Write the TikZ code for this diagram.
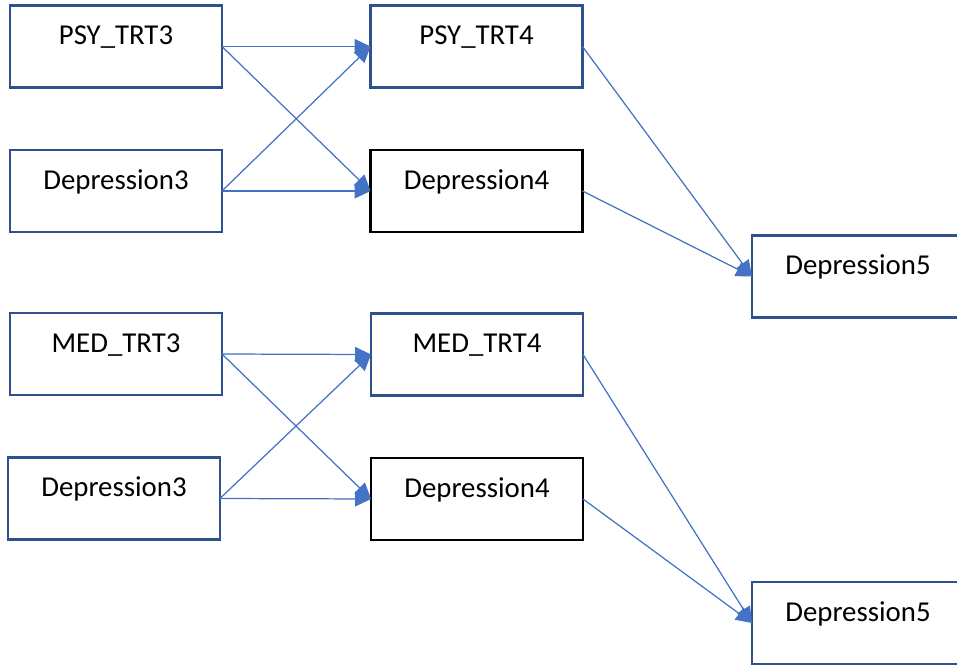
\documentclass[tikz,border=0pt]{standalone}
\usepackage{fontspec}
\setmainfont{Carlito}
\usetikzlibrary{arrows.meta,positioning}
\definecolor{cbox}{HTML}{2F528F}
\definecolor{carrow}{HTML}{4472C4}
\tikzset{
  box/.style={draw, minimum width=4.24cm, minimum height=1.64cm, inner sep=0pt, outer sep=0pt, fill=white, line width=1.4pt, font=\fontsize{16.4}{18}\selectfont, text height=0.4cm, text depth=0.47cm},
  bluen/.style={box, draw=cbox},
  blackn/.style={box, draw=black},
  pre/.style={-{Triangle[length=0.32cm, width=0.3cm]}, draw=carrow, fill=carrow, line width=0.7pt},
}
\begin{document}
\begin{tikzpicture}[x=0.02cm,y=-0.02cm]
\useasboundingbox (0,0) rectangle (957,666);
\clip (0,0) rectangle (957,666);
% upper block
\node[bluen] (psy3) at (116,46.5) {PSY\_TRT3};
\node[bluen] (dep3a) at (116,191) {Depression3};
\node[bluen] (psy4) at (476.5,46.5) {PSY\_TRT4};
\node[blackn] (dep4a) at (476.5,191) {Depression4};
\node[bluen] (dep5a) at (858,276.5) {Depression5};
% lower block
\node[bluen] (med3) at (116,354) {MED\_TRT3};
\node[bluen] (dep3b) at (114,498.5) {Depression3};
\node[bluen] (med4) at (477,354.5) {MED\_TRT4};
\node[blackn] (dep4b) at (477,499) {Depression4};
\node[bluen] (dep5b) at (858,623) {Depression5};
% paths
\draw[pre] (psy3.east) -- (psy4.west);
\draw[pre] (psy3.east) -- (dep4a.west);
\draw[pre] (dep3a.east) -- (psy4.west);
\draw[pre] (dep3a.east) -- (dep4a.west);
\draw[pre] (psy4.east) -- (dep5a.west);
\draw[pre] (dep4a.east) -- (dep5a.west);
\draw[pre] (med3.east) -- (med4.west);
\draw[pre] (med3.east) -- (dep4b.west);
\draw[pre] (dep3b.east) -- (med4.west);
\draw[pre] (dep3b.east) -- (dep4b.west);
\draw[pre] (med4.east) -- (dep5b.west);
\draw[pre] (dep4b.east) -- (dep5b.west);
\end{tikzpicture}
\end{document}
